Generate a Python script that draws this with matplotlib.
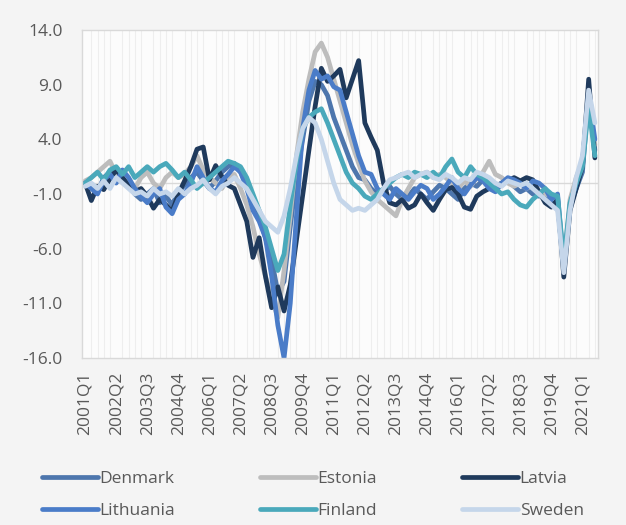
import matplotlib
matplotlib.use('Agg')
import matplotlib.pyplot as plt
from matplotlib.ticker import MultipleLocator

plt.rcParams['font.family'] = ['Open Sans', 'DejaVu Sans']

# quarterly index, 2001Q1 .. 2021Q3
quarters = [f'{y}Q{q}' for y in range(2001, 2022) for q in range(1, 5)][:83]

denmark = [
    0.0, -0.3, -0.8, 0.5, 1.0, 0.3, 0.8, 0.0, -1.0, -1.5,
    -1.0, -0.5, -1.8, -1.2, -2.0, -0.8, -0.2, 0.5, 1.0, 0.2,
    -0.5, 0.2, 1.0, 1.5, 1.8, 1.0, 0.0, -1.5, -3.0, -5.0,
    -7.0, -10.0, -9.0, -4.0, 0.5, 4.0, 7.5, 9.3, 9.0, 8.0,
    6.0, 4.5, 3.0, 1.5, 0.5, 0.3, -0.5, -1.0, -0.8, -0.3,
    -1.0, -1.5, -1.2, -0.5, -1.0, -1.5, -0.8, -0.2, -0.5, -1.0,
    -1.5, -0.5, 0.0, -0.3, 0.3, 0.0, -0.5, -0.2, 0.3, -0.3,
    -0.8, -0.5, -1.0, -1.2, -1.0, -1.8, -2.0, -7.8, -2.2, -0.5,
    1.0, 8.2, 3.0,
]
estonia = [
    0.2, 0.5, 1.0, 1.5, 2.0, 0.8, 1.0, 0.0, -0.5, 0.5,
    1.0, 0.0, -0.5, 0.5, 1.0, 0.5, 0.8, 1.5, 2.5, 1.2,
    0.5, 0.0, -0.5, 0.5, 0.8, -0.5, -2.0, -4.0, -6.5, -8.5,
    -10.5, -12.3, -8.0, -3.0, 2.5, 6.5, 9.5, 12.0, 12.8, 11.5,
    9.5, 7.5, 5.5, 3.5, 1.8, 0.2, -0.8, -1.5, -2.0, -2.5,
    -3.0, -1.5, -0.5, 0.5, 0.8, 1.0, 0.5, 0.8, 0.5, 0.0,
    -0.5, 0.2, -0.3, 0.5, 1.0, 2.0, 0.8, 0.5, 0.0, -0.3,
    0.0, -0.5, -0.2, -0.8, -1.0, -1.2, -1.5, -7.5, -1.5, 0.5,
    2.0, 7.5, 3.5,
]
latvia = [
    0.0, -1.6, -0.3, -0.6, 0.4, 1.2, 0.5, -0.2, -0.8, -0.5,
    -1.2, -2.3, -1.5, -2.0, -2.6, -1.0, 0.2, 1.5, 3.1, 3.3,
    0.3, 1.6, 0.6, -0.2, -0.5, -2.0, -3.5, -6.8, -5.0, -8.5,
    -11.4, -9.5, -11.7, -9.3, -5.2, -1.1, 3.0, 7.0, 10.5, 9.3,
    9.8, 10.4, 7.8, 9.5, 11.2, 5.5, 4.2, 3.0, 0.0, -1.8,
    -2.0, -1.5, -2.3, -2.0, -1.0, -1.8, -2.5, -1.5, -0.6, -0.4,
    -1.0, -2.2, -2.4, -1.2, -0.8, -0.5, -0.3, 0.0, 0.2, 0.5,
    0.2, 0.5, 0.3, -0.8, -1.8, -2.2, -1.5, -8.6, -2.5, -0.5,
    1.5, 9.5, 2.3,
]
lithuania = [
    0.0, -0.5, -1.0, 0.3, 0.8, 0.0, 1.2, 0.5, -0.5, -1.2,
    -1.8, -1.0, -0.5, -2.2, -2.8, -1.5, -1.0, 0.0, 1.5, 0.5,
    -0.5, -0.8, 0.2, 0.8, 1.5, 1.0, -0.5, -2.5, -3.5, -5.0,
    -8.5, -13.0, -16.0, -11.0, -3.0, 5.0, 8.5, 10.3, 9.5, 9.8,
    8.8, 8.5, 6.5, 4.5, 2.5, 1.0, 0.8, -0.5, -1.0, -1.5,
    -0.5, -1.0, -1.5, -0.8, -0.2, -0.5, -1.5, -1.0, -0.3, 0.5,
    -0.5, -1.0, -0.2, 0.5, 0.2, -0.5, -0.8, 0.0, 0.5, 0.3,
    0.0, -0.5, 0.2, 0.0, -0.5, -1.5, -1.0, -7.8, -2.0, 0.0,
    2.0, 8.0, 4.0,
]
finland = [
    0.0, 0.5, 1.0, 0.3, 1.2, 1.5, 0.8, 1.5, 0.5, 1.0,
    1.5, 1.0, 1.5, 1.8, 1.2, 0.5, 1.0, 0.3, -0.5, 0.0,
    0.5, 1.0, 1.5, 2.0, 1.8, 1.5, 0.5, -1.0, -2.5, -4.0,
    -6.0, -8.0, -6.5, -2.0, 2.0, 5.0, 6.0, 6.5, 6.8, 5.5,
    4.0, 2.5, 1.0, 0.0, -0.5, -1.2, -1.5, -1.0, -0.5, 0.0,
    0.5, 0.8, 0.5, 1.0, 0.8, 0.5, 1.0, 0.5, 1.5, 2.2,
    1.0, 0.5, 1.5, 0.8, 0.5, 0.0, -0.5, -1.0, -0.8, -1.5,
    -2.0, -2.2, -1.5, -1.0, -0.5, -1.0, -1.2, -7.0, -1.8, 0.0,
    1.5, 7.0, 2.5,
]
sweden = [
    -0.3, 0.0, -0.5, 0.2, -0.5, 0.5, 0.0, -0.5, -1.0, -0.8,
    -1.2, -0.5, -1.0, -0.8, -1.2, -0.5, -1.0, -0.5, -0.2, 0.3,
    -0.5, -1.0, -0.3, 0.0, 0.5, 0.0, -0.5, -1.5, -2.5, -3.5,
    -4.0, -4.5, -3.0, -0.5, 2.5, 5.0, 6.0, 5.5, 4.0, 2.0,
    0.0, -1.5, -2.0, -2.5, -2.3, -2.5, -2.0, -1.5, -0.5, 0.3,
    0.5, 0.8, 1.0, 0.5, 0.8, 1.0, 0.5, 0.3, 0.8, 0.5,
    0.0, 0.5, 0.3, 1.0, 0.8, 0.5, 0.0, -0.3, 0.2, 0.0,
    -0.2, 0.0, -0.5, -1.0, -1.5, -2.0, -2.5, -8.2, -2.5, 0.5,
    2.5, 8.5, 5.5,
]

series = [
    ('Denmark', denmark, '#4d76ad'),
    ('Estonia', estonia, '#bdbdbd'),
    ('Latvia', latvia, '#1f3a5c'),
    ('Lithuania', lithuania, '#4a7cc8'),
    ('Finland', finland, '#4aa9bb'),
    ('Sweden', sweden, '#c5d6ea'),
]

text_col = '#595959'
fig = plt.figure(figsize=(6.26, 5.25), dpi=100, facecolor='#f4f4f4')
ax = fig.add_axes([82 / 626, 1 - 358 / 525, 516 / 626, 328 / 525], facecolor='#fcfcfc')

x = list(range(len(quarters)))
lines = []
for name, vals, col in series:
    ln, = ax.plot(x, vals, color=col, lw=3.4, label=name,
                  solid_joinstyle='round', solid_capstyle='round')
    lines.append(ln)

ax.set_xlim(-0.5, len(quarters) - 0.5)
ax.set_ylim(-16, 14)
ax.set_yticks(range(-16, 15, 5))
ax.set_yticklabels([f'{v:.1f}' for v in range(-16, 15, 5)])
ax.set_xticks(range(0, len(quarters), 5))
ax.set_xticklabels(quarters[::5], rotation=90)

# faint grid line per quarter plus the zero axis line
ax.xaxis.set_minor_locator(MultipleLocator(1))
ax.grid(which='minor', axis='x', color='#eeeeee', lw=0.8)
ax.set_axisbelow(True)
ax.axhline(0, color='#d9d9d9', lw=1, zorder=1)

for s in ax.spines.values():
    s.set_color('#d9d9d9')
    s.set_linewidth(1)
ax.tick_params(which='both', length=0, colors=text_col, labelsize=12.5)
ax.tick_params(axis='y', pad=14)
ax.tick_params(axis='x', pad=10)

# legend fills column-wise, so order entries to read row by row
order = [0, 3, 1, 4, 2, 5]
fig.legend([lines[i] for i in order], [series[i][0] for i in order],
           loc='center', bbox_to_anchor=(0.5, 1 - 495 / 525), ncol=3,
           frameon=False, fontsize=12.5, labelcolor=text_col,
           handlelength=3.2, handletextpad=0.1, columnspacing=4.9,
           labelspacing=0.95)

fig.savefig('out.png', dpi=100, facecolor=fig.get_facecolor())
